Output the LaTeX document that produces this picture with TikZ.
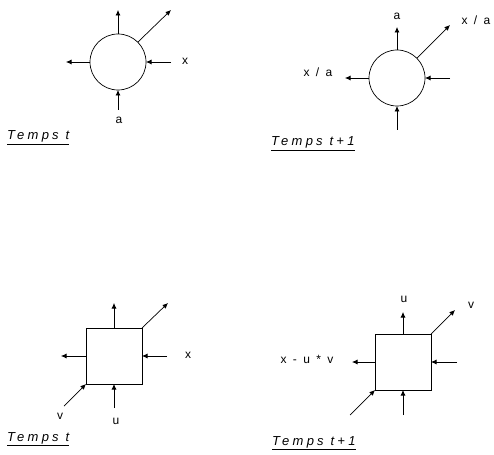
\documentclass[tikz,border=0pt]{standalone}
\usepackage{fontspec}
\setmainfont{Liberation Sans}
\usetikzlibrary{arrows.meta}

\begin{document}
\begin{tikzpicture}[x=1pt, y=-1pt,
  cell/.style={draw, line width=0.7pt, inner sep=0pt, outer sep=0pt, minimum size=56pt},
  rond/.style={cell, circle},
  carre/.style={cell, rectangle},
  arr/.style={-{Latex[length=5.5pt,width=5pt]}, line width=0.7pt},
  lbl/.style={font=\fontsize{12}{14}\selectfont\addfontfeatures{LetterSpace=25}, inner sep=1pt},
  temps/.style={font=\fontsize{13}{15}\selectfont\itshape\addfontfeatures{LetterSpace=25}, anchor=base west, inner sep=0pt}
]
\useasboundingbox (0,0) rectangle (494,454);

\node[rond] (c1) at (118,62) {};
\coordinate (c1n) at (118,10);
\coordinate (c1ne) at (171,10);
\coordinate (c1w) at (66,62);
\coordinate (c1e) at (171,62);
\coordinate (c1s) at (118,110);
\draw[arr] (c1.north) -- (c1n);
\draw[arr] (c1.45) -- (c1ne);
\draw[arr] (c1.west) -- (c1w);
\draw[arr] (c1e) -- (c1.east);
\draw[arr] (c1s) -- (c1.south);
\node[lbl] (c1x) at (185,61) {x};
\node[lbl] (c1a) at (119,120) {a};
\node[temps] (t1) at (7,140) {\underline{Temps t}};

\node[rond] (c2) at (397,78) {};
\coordinate (c2n) at (397,27);
\coordinate (c2ne) at (450,25);
\coordinate (c2w) at (345,78);
\coordinate (c2e) at (450,78);
\coordinate (c2s) at (397,130);
\draw[arr] (c2.north) -- (c2n);
\draw[arr] (c2.45) -- (c2ne);
\draw[arr] (c2.west) -- (c2w);
\draw[arr] (c2e) -- (c2.east);
\draw[arr] (c2s) -- (c2.south);
\node[lbl] (c2a) at (397,16) {a};
\node[lbl] (c2xa) at (476,20) {x / a};
\node[lbl] (c2xb) at (318,72) {x / a};
\node[temps] (t2) at (271,146) {\underline{Temps t+1}};

\node[carre] (s1) at (114,356) {};
\coordinate (s1n) at (114,303);
\coordinate (s1ne) at (168,303);
\coordinate (s1w) at (61,356);
\coordinate (s1e) at (167,356);
\coordinate (s1s) at (114,408);
\coordinate (s1sw) at (64,406);
\draw[arr] (s1.north) -- (s1n);
\draw[arr] (s1.north east) -- (s1ne);
\draw[arr] (s1.west) -- (s1w);
\draw[arr] (s1e) -- (s1.east);
\draw[arr] (s1s) -- (s1.south);
\draw[arr] (s1sw) -- (s1.south west);
\node[lbl] (s1x) at (188,355) {x};
\node[lbl] (s1v) at (60,416) {v};
\node[lbl] (s1u) at (116,421) {u};
\node[temps] (t3) at (7,441) {\underline{Temps t}};

\node[carre] (s2) at (403,362) {};
\coordinate (s2n) at (403,312);
\coordinate (s2ne) at (455,310);
\coordinate (s2w) at (352,362);
\coordinate (s2e) at (457,362);
\coordinate (s2s) at (403,415);
\coordinate (s2sw) at (350,415);
\draw[arr] (s2.north) -- (s2n);
\draw[arr] (s2.north east) -- (s2ne);
\draw[arr] (s2.west) -- (s2w);
\draw[arr] (s2e) -- (s2.east);
\draw[arr] (s2s) -- (s2.south);
\draw[arr] (s2sw) -- (s2.south west);
\node[lbl] (s2u) at (404,299) {u};
\node[lbl] (s2v) at (471,305) {v};
\node[lbl] (s2xuv) at (307,359) {x - u * v};
\node[temps] (t4) at (272,445) {\underline{Temps t+1}};
\end{tikzpicture}
\end{document}
